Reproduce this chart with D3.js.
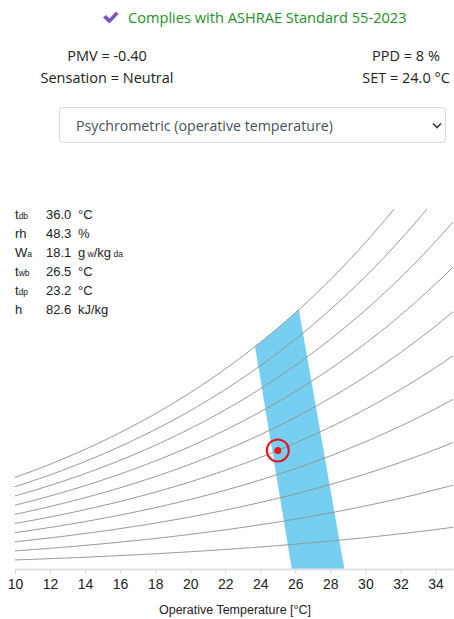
<!DOCTYPE html>
<html>
<head>
<meta charset="utf-8">
<script src="https://cdn.jsdelivr.net/npm/d3@7"></script>
<style>
  html, body { margin: 0; padding: 0; background: #fff; }
  body { width: 454px; height: 619px; overflow: hidden; position: relative; font-family: "Open Sans", "Noto Sans", sans-serif; }
  #chart { position: absolute; left: 0; top: 0; pointer-events: none; }
  #view {
    position: absolute; left: 59px; top: 107px; width: 387px; height: 36px;
    box-sizing: border-box; border: 1px solid #d6dbe0; border-radius: 4px;
    font-family: "Open Sans", sans-serif; font-size: 14.2px; color: #495057;
    padding: 0 0 0 16px; background: #fff; -webkit-appearance: none; appearance: none; outline: none;
  }
</style>
</head>
<body>
<select id="view"><option>Psychrometric (operative temperature)</option></select>
<svg id="chart" width="454" height="619"></svg>
<script>
// ---- chart data ----
const xTicks = [10, 12, 14, 16, 18, 20, 22, 24, 26, 28, 30, 32, 34];
const rhLevels = [10, 20, 30, 40, 50, 60, 70, 80, 90, 100];          // relative humidity curves, %
const zoneSatTemps = [23.7, 26.2];   // comfort zone edges where they meet saturation, °C
const zoneDryTemps = [25.8, 28.8];   // comfort zone edges at zero humidity ratio, °C
const currentPoint = { t: 25.0, rh: 50 };

const resultsLeft = ["PMV = -0.40", "Sensation = Neutral"];
const resultsRight = ["PPD = 8 %", "SET = 24.0 °C"];
const complianceText = "Complies with ASHRAE Standard 55-2023";

const infoLabels = [["t", "db"], ["rh", ""], ["W", "a"], ["t", "wb"], ["t", "dp"], ["h", ""]];
const infoValues = ["36.0", "48.3", "18.1", "26.5", "23.2", "82.6"];
const infoUnits = [[["°C", 0]], [["%", 0]], [["g", 0], [" w", 1], ["/kg", 0], [" da", 1]], [["°C", 0]], [["°C", 0]], [["kJ/kg", 0]]];

// ---- psychrometrics ----
const P_ATM = 101325;
function satPressure(tC) {
  const T = tC + 273.15;
  return Math.exp(-5.8002206e3 / T + 1.3914993 - 4.8640239e-2 * T + 4.1764768e-5 * T * T
    - 1.4452093e-8 * T * T * T + 6.5459673 * Math.log(T));
}
function humRatio(tC, rh) {
  const pw = rh / 100 * satPressure(tC);
  return 0.621945 * pw / (P_ATM - pw);
}

const svg = d3.select("#chart");

// ---- header ----
svg.append("path")
  .attr("d", "M103,17.5 L106,15 L109.5,18.5 L116,11.5 L118.5,14 L109.5,23.5 Z")
  .attr("fill", "#7a52c7");
svg.append("text").attr("x", 128).attr("y", 23)
  .attr("font-family", "Open Sans, sans-serif").attr("font-size", 14.6).attr("fill", "#1f8f2b")
  .text(complianceText);

resultsLeft.forEach((s, i) => svg.append("text").attr("x", 107).attr("y", 61 + i * 22)
  .attr("text-anchor", "middle").attr("font-family", "Open Sans, sans-serif").attr("font-size", 14.5)
  .attr("fill", "#222").text(s));
resultsRight.forEach((s, i) => svg.append("text").attr("x", 406).attr("y", 61 + i * 22)
  .attr("text-anchor", "middle").attr("font-family", "Open Sans, sans-serif").attr("font-size", 14.5)
  .attr("fill", "#222").text(s));

// select chevron
svg.append("path").attr("d", "M433,123.5 L437,127.5 L441,123.5")
  .attr("fill", "none").attr("stroke", "#343a40").attr("stroke-width", 1.6);

// ---- scales ----
const x = d3.scaleLinear().domain([10, 35]).range([15, 453]);
const y = d3.scaleLinear().domain([0, 0.03]).range([569, 209]);

svg.append("clipPath").attr("id", "plotClip")
  .append("rect").attr("x", x(10)).attr("y", y(0.03)).attr("width", x(35) - x(10)).attr("height", y(0) - y(0.03));

const plot = svg.append("g").attr("clip-path", "url(#plotClip)");

// comfort zone
const zonePts = [[zoneDryTemps[0], 0], [zoneSatTemps[0], humRatio(zoneSatTemps[0], 100)]];
d3.range(zoneSatTemps[0] + 0.1, zoneSatTemps[1], 0.1).forEach(t => zonePts.push([t, humRatio(t, 100)]));
zonePts.push([zoneSatTemps[1], humRatio(zoneSatTemps[1], 100)], [zoneDryTemps[1], 0]);
plot.append("path")
  .attr("d", d3.line().x(d => x(d[0])).y(d => y(d[1]))(zonePts) + "Z")
  .attr("fill", "#76cff0");

// relative humidity curves
const temps = d3.range(10, 35.05, 0.1);
const line = d3.line().x(d => x(d[0])).y(d => y(d[1]));
rhLevels.forEach(rh => {
  plot.append("path")
    .attr("d", line(temps.map(t => [t, humRatio(t, rh)])))
    .attr("fill", "none").attr("stroke", "#939393").attr("stroke-width", 1);
});

// current state
const px = x(currentPoint.t), py = y(humRatio(currentPoint.t, currentPoint.rh));
svg.append("circle").attr("cx", px).attr("cy", py).attr("r", 11)
  .attr("fill", "none").attr("stroke", "#e8141b").attr("stroke-width", 2);
svg.append("circle").attr("cx", px).attr("cy", py).attr("r", 3.5).attr("fill", "#e8141b");

// x axis
const axis = svg.append("g").attr("transform", `translate(0,${y(0)})`)
  .call(d3.axisBottom(x).tickValues(xTicks).tickSize(5).tickSizeOuter(0).tickPadding(5));
axis.select(".domain").attr("stroke", "#e2e2e2").attr("stroke-width", 2);
axis.selectAll(".tick line").attr("stroke", "#d8d8d8");
axis.selectAll(".tick text").attr("font-family", "Liberation Sans, Arial, sans-serif")
  .attr("font-size", 14).attr("fill", "#222");

svg.append("text").attr("x", 235).attr("y", 614).attr("text-anchor", "middle")
  .attr("font-family", "Liberation Sans, Arial, sans-serif").attr("font-size", 12.5).attr("fill", "#222")
  .text("Operative Temperature [°C]");

// ---- psychrometric readout ----
const info = svg.append("g").attr("font-family", "Liberation Sans, Arial, sans-serif").attr("fill", "#222");
infoLabels.forEach((lab, i) => {
  const yy = 219 + i * 19;
  const t = info.append("text").attr("x", 15).attr("y", yy).attr("font-size", 13);
  t.append("tspan").text(lab[0]);
  if (lab[1]) t.append("tspan").attr("font-size", 8.5).text(lab[1]);
  info.append("text").attr("x", 46).attr("y", yy).attr("font-size", 13).text(infoValues[i]);
  const u = info.append("text").attr("x", 78).attr("y", yy).attr("font-size", 13);
  infoUnits[i].forEach(([s, small]) => u.append("tspan").attr("font-size", small ? 8.5 : 13).text(s));
});
</script>
</body>
</html>
